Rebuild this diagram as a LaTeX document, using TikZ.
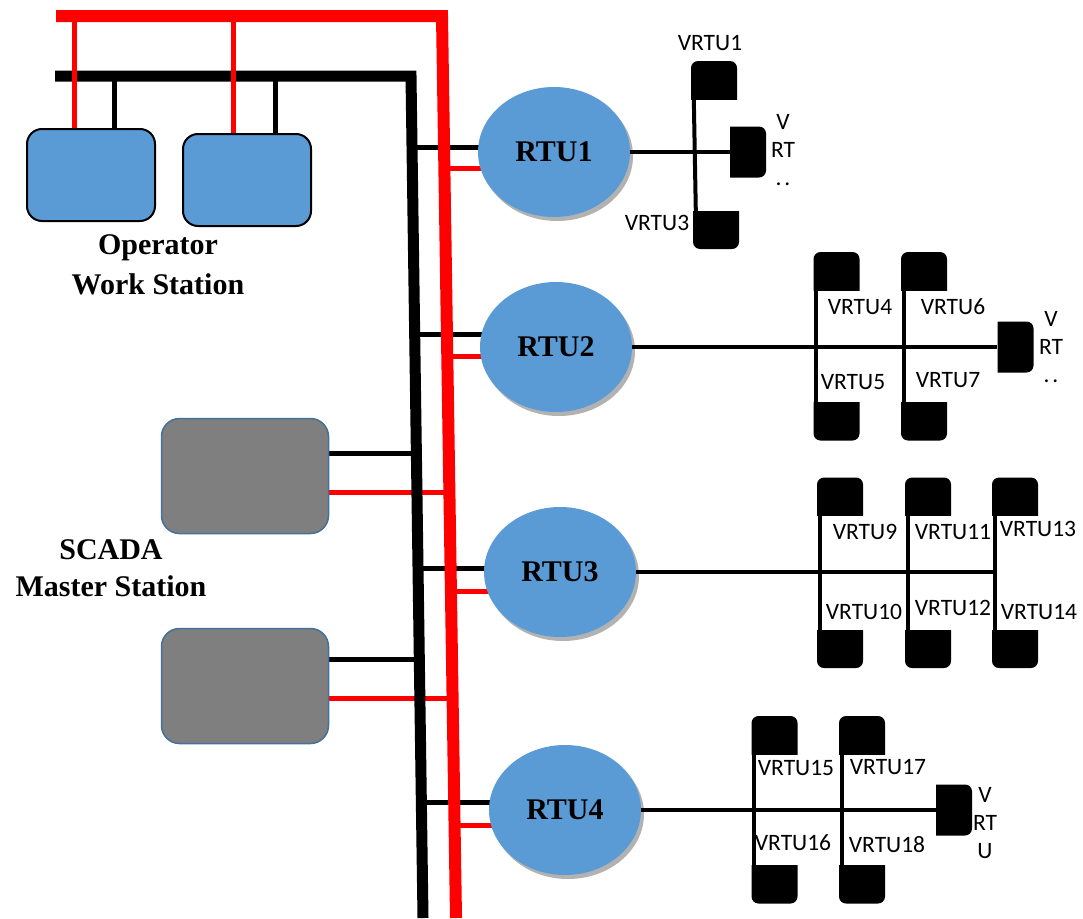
\documentclass[tikz,border=0pt]{standalone}
\usepackage{fontspec}
\setmainfont{Liberation Serif}
\newfontfamily\vfont{Carlito}
\usetikzlibrary{shapes.geometric,shadows,backgrounds}
\definecolor{rtublue}{HTML}{5B9BD5}
\definecolor{mgray}{HTML}{7F7F7F}
\definecolor{medge}{HTML}{41719C}
\def\ppb{path picture bounding box}
\tikzset{
  rtu/.style={ellipse, fill=rtublue, minimum width=152pt, minimum height=130pt, inner sep=0pt,
    font=\fontsize{30}{30}\selectfont\bfseries,
    drop shadow={shadow xshift=3pt, shadow yshift=-4pt, fill=black!30, opacity=1}},
  ws/.style={rectangle, rounded corners=15pt, draw=black, line width=2pt, fill=rtublue,
    minimum width=128pt, minimum height=92pt},
  master/.style={rectangle, rounded corners=18pt, draw=medge, line width=1.5pt, fill=mgray,
    minimum width=167pt, minimum height=115pt},
  vbase/.style={rectangle, inner sep=0pt},
  vtop/.style={vbase, minimum width=46pt, minimum height=38pt,
    path picture={\fill[rounded corners=7pt] ([yshift=-9pt]\ppb.south west) -- (\ppb.north west)
      -- (\ppb.north east) -- ([yshift=-9pt]\ppb.south east) -- cycle;}},
  vbot/.style={vbase, minimum width=46pt, minimum height=38pt,
    path picture={\fill[rounded corners=7pt] ([yshift=9pt]\ppb.north west) -- (\ppb.south west)
      -- (\ppb.south east) -- ([yshift=9pt]\ppb.north east) -- cycle;}},
  vend/.style={vbase, minimum width=36pt, minimum height=51pt,
    path picture={\fill[rounded corners=7pt] ([xshift=-9pt]\ppb.north west) -- (\ppb.north east)
      -- (\ppb.south east) -- ([xshift=-9pt]\ppb.south west) -- cycle;}},
  vlbl/.style={font=\vfont\fontsize{23.5}{28}\selectfont, inner sep=0pt, align=center},
  title/.style={font=\fontsize{30}{40}\selectfont\bfseries, align=center, inner sep=0pt},
  kbus/.style={line width=11pt, black},
  rbus/.style={line width=12pt, red},
  kline/.style={line width=5pt, black},
  rline/.style={line width=5pt, red},
  link/.style={line width=4pt, black},
}

\begin{document}
\begin{tikzpicture}[x=1pt,y=-1pt]
  \useasboundingbox (0,0) rectangle (1083,918);

  % operator work stations
  \node[ws] (ws1) at (91,175) {};
  \node[ws] (ws2) at (247,180) {};
  \node[title] (wslbl) at (158,265) {Operator\\Work Station};

  % scada master station
  \node[master] (ms1) at (245,476) {};
  \node[master] (ms2) at (245,686) {};
  \node[title, font=\fontsize{30}{37}\selectfont\bfseries] (mslbl) at (111,568) {SCADA\\Master Station};

  % rtus
  \node[rtu] (rtu1) at (554,152) {RTU1};
  \node[rtu] (rtu2) at (556,347) {RTU2};
  \node[rtu] (rtu3) at (560,572) {RTU3};
  \node[rtu] (rtu4) at (565,810) {RTU4};

  % vrtus of rtu1
  \node[vtop] (v1) at (714,80) {};
  \node[vend] (v2) at (748,152) {};
  \node[vbot] (v3) at (716,230) {};
  \node[vlbl] (l1) at (710,43) {VRTU1};
  \node[vlbl, anchor=north] (l2) at (783,114) {V\\RT\\.\hspace{3pt}.};
  \node[vlbl] (l3) at (657,223) {VRTU3};

  % vrtus of rtu2
  \node[vtop] (v4) at (836.5,271) {};
  \node[vbot] (v5) at (836.5,421.5) {};
  \node[vtop] (v6) at (924,271) {};
  \node[vbot] (v7) at (924,421.5) {};
  \node[vend] (v8) at (1015.5,347) {};
  \node[vlbl] (l4) at (860,307) {VRTU4};
  \node[vlbl] (l5) at (853,382) {VRTU5};
  \node[vlbl] (l6) at (953,307) {VRTU6};
  \node[vlbl] (l7) at (948,380) {VRTU7};
  \node[vlbl, anchor=north] (l8) at (1051,311) {V\\RT\\.\hspace{3pt}.};

  % vrtus of rtu3
  \node[vtop] (v9) at (840,496.5) {};
  \node[vbot] (v10) at (840,649) {};
  \node[vtop] (v11) at (928,496.5) {};
  \node[vbot] (v12) at (928,649) {};
  \node[vtop] (v13) at (1015,496.5) {};
  \node[vbot] (v14) at (1015,649) {};
  \node[vlbl] (l9) at (865,532) {VRTU9};
  \node[vlbl] (l10) at (864,612) {VRTU10};
  \node[vlbl] (l11) at (953,532) {VRTU11};
  \node[vlbl] (l12) at (953,608) {VRTU12};
  \node[vlbl] (l13) at (1038,529) {VRTU13};
  \node[vlbl] (l14) at (1039,612) {VRTU14};

  % vrtus of rtu4
  \node[vtop] (v15) at (774.5,735) {};
  \node[vbot] (v16) at (774.5,884.5) {};
  \node[vtop] (v17) at (862,735) {};
  \node[vbot] (v18) at (862,884.5) {};
  \node[vend] (v19) at (954,810) {};
  \node[vlbl] (l15) at (796,768) {VRTU15};
  \node[vlbl] (l16) at (793,843) {VRTU16};
  \node[vlbl] (l17) at (888,767) {VRTU17};
  \node[vlbl] (l18) at (887,845) {VRTU18};
  \node[vlbl] (l19) at (985,823) {V\\RT\\U};

  % vrtu links
  \draw[link] (rtu1.east) -- (v2.west);
  \draw[link] ([xshift=3pt]v1.south west) -- ([xshift=3pt]v3.north west);
  \draw[link] (rtu2.east) -- (v8.west);
  \draw[link] ([xshift=3pt]v4.south west) -- ([xshift=3pt]v5.north west);
  \draw[link] ([xshift=3pt]v6.south west) -- ([xshift=3pt]v7.north west);
  \coordinate (j3) at ([xshift=3pt]v13.south west);
  \draw[link] (rtu3.east) -- (rtu3.east -| j3);
  \draw[link] ([xshift=3pt]v9.south west) -- ([xshift=3pt]v10.north west);
  \draw[link] ([xshift=3pt]v11.south west) -- ([xshift=3pt]v12.north west);
  \draw[link] ([xshift=3pt]v13.south west) -- ([xshift=3pt]v14.north west);
  \draw[link] (rtu4.east) -- (v19.west);
  \draw[link] ([xshift=3pt]v15.south west) -- ([xshift=3pt]v16.north west);
  \draw[link] ([xshift=3pt]v17.south west) -- ([xshift=3pt]v18.north west);

  % buses
  \begin{scope}[on background layer]
    \coordinate (rm1) at (449,492);
    \coordinate (rm2) at (453,698);
    \draw[rline] (rm1) -- (rm1 -| ms1.east);
    \draw[rline] (rm2) -- (rm2 -| ms2.east);

    \coordinate (kw1) at (114,76);
    \coordinate (kw2) at (275,76);
    \coordinate (km1) at (416,453);
    \coordinate (km2) at (419,659);
    \coordinate (k1) at (412,147);
    \coordinate (k2) at (415,334);
    \coordinate (k3) at (418,568);
    \coordinate (k4) at (421,802);
    \draw[kbus] (55,76) -- (411,76) -- (423,918);
    \draw[kline] (kw1) -- (kw1 |- ws1.north);
    \draw[kline] (kw2) -- (kw2 |- ws2.north);
    \draw[kline] (km1) -- (km1 -| ms1.east);
    \draw[kline] (km2) -- (km2 -| ms2.east);
    \draw[kline] (k1) -- (k1 -| rtu1.center);
    \draw[kline] (k2) -- (k2 -| rtu2.center);
    \draw[kline] (k3) -- (k3 -| rtu3.center);
    \draw[kline] (k4) -- (k4 -| rtu4.center);

    \coordinate (rw1) at (74,16);
    \coordinate (rw2) at (233,16);
    \coordinate (r1) at (444,168);
    \coordinate (r2) at (447,356);
    \coordinate (r3) at (451,591);
    \coordinate (r4) at (455,825);
    \draw[rbus] (56,16) -- (442,16) -- (456,918);
    \draw[rline] (rw1) -- (rw1 |- ws1.north);
    \draw[rline] (rw2) -- (rw2 |- ws2.north);
    \draw[rline] (r1) -- (r1 -| rtu1.center);
    \draw[rline] (r2) -- (r2 -| rtu2.center);
    \draw[rline] (r3) -- (r3 -| rtu3.center);
    \draw[rline] (r4) -- (r4 -| rtu4.center);
  \end{scope}
\end{tikzpicture}
\end{document}
